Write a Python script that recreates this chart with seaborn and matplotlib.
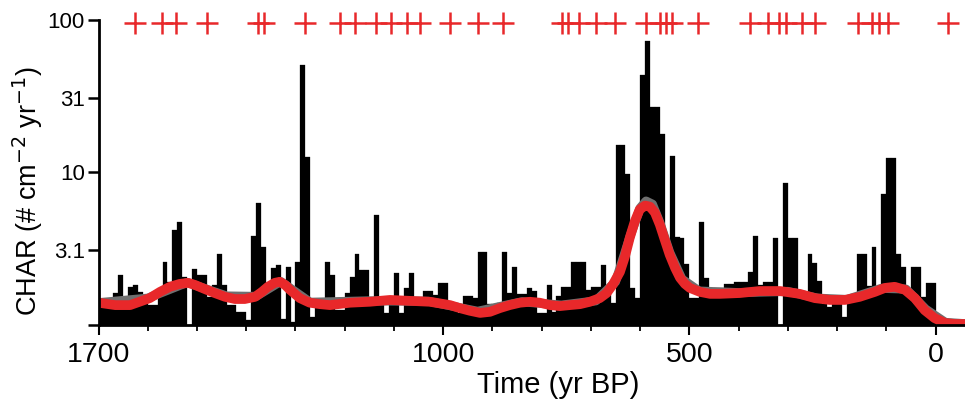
import numpy as np
import pandas as pd
import seaborn as sns
import matplotlib.pyplot as plt

# ---------- data ----------
# charcoal accumulation rate, 10-yr bins, oldest (1700 yr BP) first
char = [1.3, 1.3, 1.3, 1.62, 2.13, 1.53, 1.78, 1.83, 1.65, 1.53,
        1.35, 1.35, 1.70, 2.6, 1.92, 4.2, 4.7, 2.07, 0, 2.33,
        2.13, 2.13, 1.53, 1.83, 2.93, 1.83, 1.35, 1.35, 1.22, 1.22,
        1.08, 3.85, 6.3, 3.26, 1.89, 2.37, 2.48, 1.1, 2.4, 1.05,
        2.6, 51, 12.6, 1.13, 1.4, 1.4, 2.6, 2.13, 1.25, 1.25,
        1.62, 2.07, 2.93, 2.3, 2.3, 1.5, 5.3, 1.4, 1.2, 1.4,
        2.2, 1.2, 1.75, 2.2, 1.53, 1.53, 1.67, 1.67, 1.57, 1.89,
        1.89, 1.25, 1.25, 1.2, 1.55, 1.55, 1.5, 3.0, 3.0, 1.37,
        1.2, 1.4, 3.0, 1.62, 2.4, 1.6, 1.6, 1.75, 1.67, 1.2,
        1.2, 1.83, 1.22, 1.55, 1.78, 1.78, 2.6, 2.6, 2.6, 1.7,
        1.78, 1.78, 2.48, 1.7, 1.4, 15.1, 15.1, 9.8, 1.75, 1.5,
        43.5, 73, 27, 27, 17.8, 2.97, 12.9, 3.8, 3.7, 2.52,
        1.5, 1.5, 4.7, 2.04, 1.5, 1.75, 1.75, 1.86, 1.86, 1.92,
        1.92, 1.92, 2.23, 3.85, 1.83, 1.92, 1.92, 3.7, 0, 8.5,
        3.7, 3.7, 1.5, 1.5, 2.93, 2.56, 1.95, 1.37, 1.31, 1.53,
        1.53, 1.13, 1.53, 1.53, 2.93, 2.93, 1.8, 3.26, 1.7, 7.2,
        12.5, 12.5, 2.93, 2.4, 1.53, 2.4, 2.4, 1.53, 1.89, 1.89]
bin_age = np.arange(1695, 0, -10)

# background / smoothed CHAR (red)
bkg_age = [1700, 1666, 1636, 1596, 1575, 1555, 1535, 1518, 1504, 1484,
           1464, 1443, 1423, 1403, 1382, 1368, 1356, 1342, 1332, 1321,
           1311, 1291, 1271, 1250, 1230, 1189, 1149, 1108, 1068, 1027,
           986, 966, 946, 925, 905, 885, 865, 844, 824, 804,
           783, 763, 743, 722, 702, 682, 668, 655, 641, 631,
           621, 611, 601, 590, 580, 570, 560, 550, 540, 529,
           519, 509, 499, 479, 458, 438, 398, 357, 316, 276,
           245, 215, 184, 154, 123, 103, 83, 62, 42, 22,
           2, -19, -39, -59]
bkg_red = [1.40, 1.35, 1.35, 1.50, 1.65, 1.78, 1.86, 1.89, 1.83, 1.72,
           1.62, 1.53, 1.48, 1.48, 1.53, 1.65, 1.78, 1.89, 1.92, 1.83,
           1.70, 1.50, 1.40, 1.37, 1.35, 1.40, 1.42, 1.46, 1.44, 1.42,
           1.35, 1.29, 1.24, 1.20, 1.22, 1.29, 1.35, 1.40, 1.42, 1.40,
           1.35, 1.33, 1.35, 1.37, 1.42, 1.50, 1.62, 1.85, 2.23, 2.80,
           3.74, 4.76, 5.71, 6.07, 5.97, 5.46, 4.55, 3.62, 2.89, 2.37,
           2.04, 1.86, 1.75, 1.65, 1.60, 1.60, 1.62, 1.67, 1.67, 1.60,
           1.50, 1.46, 1.46, 1.53, 1.65, 1.75, 1.78, 1.70, 1.50, 1.25,
           1.11, 1.03, 1.015, 1.015]
# second (grey) background estimate, mostly hidden under the red one
grey_age = [1700, 1600, 1520, 1440, 1380, 1330, 1270, 1150, 1030, 930,
            840, 760, 690, 650, 620, 600, 588, 575, 560, 540,
            515, 480, 400, 300, 240, 180, 110, 60, 20, -20, -59]
grey_val = [1.40, 1.50, 1.90, 1.55, 1.54, 1.93, 1.41, 1.44, 1.43, 1.23,
            1.42, 1.35, 1.44, 1.92, 3.85, 5.85, 6.5, 6.2, 4.7, 3.0,
            2.0, 1.67, 1.63, 1.66, 1.50, 1.47, 1.74, 1.72, 1.27, 1.04, 1.02]

# charcoal peaks identified (yr BP)
peaks = [1626, 1572, 1543, 1479, 1376, 1364, 1281, 1210, 1179, 1137,
         1105, 1074, 1047, 986, 929, 878, 758, 746, 724, 690,
         651, 588, 560, 548, 536, 482, 377, 340, 318, 303,
         272, 245, 157, 130, 115, 96, -26]
peak_level = 95

df_char = pd.DataFrame({"age": bin_age, "char": char})
df_peaks = pd.DataFrame({"age": peaks, "lvl": [peak_level] * len(peaks)})

# ---------- plot ----------
sns.set_style("ticks", {"xtick.color": "black", "ytick.color": "black",
                        "axes.edgecolor": "black", "axes.labelcolor": "black",
                        "text.color": "black"})
plt.rcParams['font.family'] = ['Liberation Sans', 'DejaVu Sans']

fig = plt.figure(figsize=(9.65, 4.09), dpi=100)
ax = fig.add_axes([0.1021, 0.2054, 0.898, 0.7457])

sns.histplot(data=df_char, x="age", weights="char", binwidth=10, binrange=(0, 1700),
             color="black", alpha=1, edgecolor="black", linewidth=0.2, ax=ax)
sns.lineplot(x=grey_age, y=grey_val, color="#6f6f6f", lw=6.5, ax=ax)
sns.lineplot(x=bkg_age, y=bkg_red, color="#e8282a", lw=7, ax=ax)
sns.scatterplot(data=df_peaks, x="age", y="lvl", marker="+", s=230,
                color="#e8282a", linewidth=1.8, clip_on=False, zorder=5, ax=ax)

ax.set_yscale("log")
ax.set_ylim(1, 100)
ax.set_xlim(1700, -60)

ax.set_yticks([1, 3.1, 10, 31, 100], ["", "3.1", "10", "31", "100"])
ax.minorticks_off()
ax.set_xticks([1700, 1000, 500, 0], ["1700", "1000", "500", "0"])
ax.set_xticks(np.arange(0, 1701, 100), minor=True)

ax.tick_params(axis="y", which="major", length=8, width=1.8, labelsize=16, pad=2,
               colors="black")
ax.tick_params(axis="x", which="major", length=7, width=1.5, labelsize=20.5, pad=5,
               colors="black")
ax.tick_params(axis="x", which="minor", length=4, width=1.3, colors="black")

for s in ["top", "right"]:
    ax.spines[s].set_visible(False)
for s in ["left", "bottom"]:
    ax.spines[s].set_linewidth(2)
    ax.spines[s].set_color("black")

ax.set_xlabel("Time (yr BP)", fontsize=21, color="black")
ax.set_ylabel("CHAR (# cm$^{-2}$ yr$^{-1}$)", fontsize=19.5, color="black")
ax.xaxis.set_label_coords(0.53, -0.15)
ax.yaxis.set_label_coords(-0.062, 0.44)

fig.savefig("out.png", dpi=100)
